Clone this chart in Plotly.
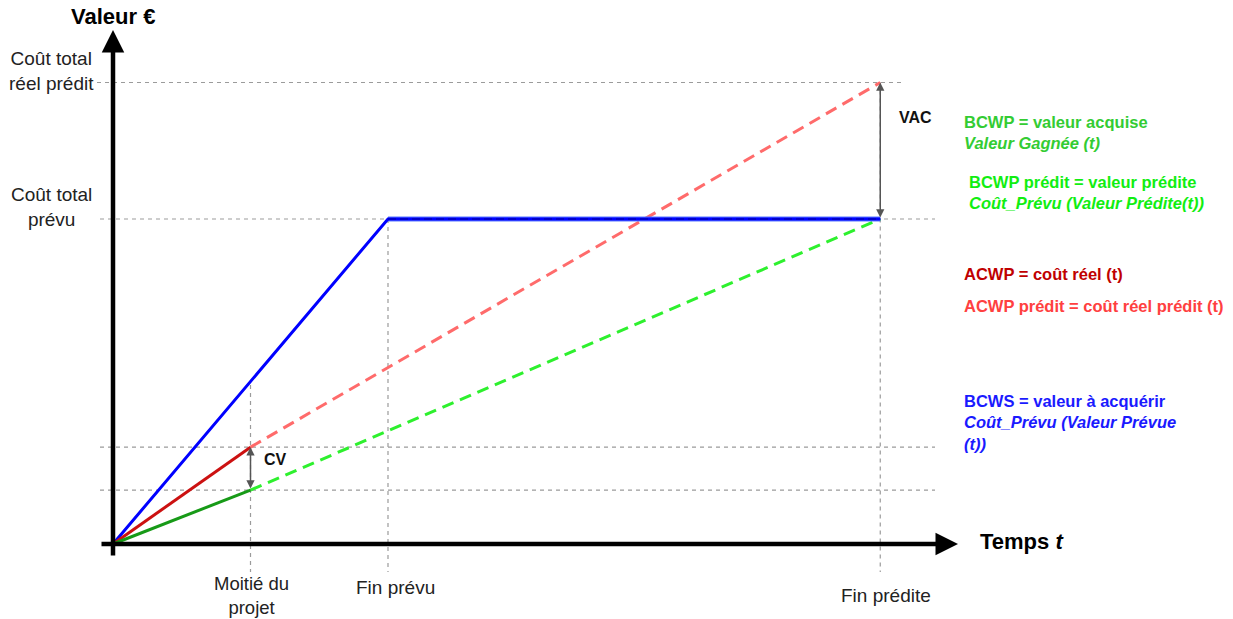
import plotly.graph_objects as go

# ---------------- data (time units / value units) ----------------
temps_labels = ["Moitié du<br>projet", "Fin prévu", "Fin prédite"]
temps_points = [1.0, 2.0, 5.58]          # mi-projet, fin prévue, fin prédite
valeur_labels = ["Coût total<br>réel prédit", "Coût total<br>prévu"]
valeur_points = [142.0, 100.0]           # coût total réel prédit, coût total prévu

bcws_t = [0.0, 2.0, 5.58]
bcws_v = [0.0, 100.0, 100.0]
acwp_t = [0.0, 1.0]
acwp_v = [0.0, 29.8]
acwp_pred_t = [1.0, 5.58]
acwp_pred_v = [29.8, 142.0]
bcwp_t = [0.0, 1.0]
bcwp_v = [0.0, 16.6]
bcwp_pred_t = [1.0, 5.58]
bcwp_pred_v = [16.6, 100.0]

# ---------------- layout helpers ----------------
W, H = 1233, 619
OX, OY = 113, 544          # pixel position of the origin
SX, SY = 137.5, 3.25       # pixels per unit


def X(px):
    return (px - OX) / SX


def Y(py):
    return (OY - py) / SY


def P(px, py):
    return px / W, 1 - py / H


FONT = "Arial, Liberation Sans, sans-serif"
GUIDE = dict(color="#9b9b9b", width=1.2, dash="4px,4px")

fig = go.Figure()

# main series
fig.add_trace(go.Scatter(x=acwp_pred_t, y=acwp_pred_v, mode="lines",
                         line=dict(color="#ff6b6b", width=3, dash="12px,7px")))
fig.add_trace(go.Scatter(x=bcwp_pred_t, y=bcwp_pred_v, mode="lines",
                         line=dict(color="#2ef02e", width=3, dash="12px,7px")))
fig.add_trace(go.Scatter(x=bcws_t[1:], y=bcws_v[1:], mode="lines",
                         line=dict(color="#5a78ff", width=5)))
fig.add_trace(go.Scatter(x=bcws_t, y=bcws_v, mode="lines",
                         line=dict(color="#0000ff", width=3)))
fig.add_trace(go.Scatter(x=bcws_t[1:], y=bcws_v[1:], mode="lines",
                         line=dict(color="#0000cc", width=2, dash="8px,4px")))
fig.add_trace(go.Scatter(x=acwp_t, y=acwp_v, mode="lines",
                         line=dict(color="#cc1111", width=3)))
fig.add_trace(go.Scatter(x=bcwp_t, y=bcwp_v, mode="lines",
                         line=dict(color="#179a17", width=3)))

shapes = []
# horizontal guides
shapes.append(dict(type="line", x0=X(97), x1=X(902), y0=valeur_points[0], y1=valeur_points[0], line=GUIDE, layer="below"))
shapes.append(dict(type="line", x0=X(100), x1=X(935), y0=valeur_points[1], y1=valeur_points[1], line=GUIDE, layer="below"))
shapes.append(dict(type="line", x0=X(100), x1=X(935), y0=acwp_v[-1], y1=acwp_v[-1], line=GUIDE, layer="below"))
shapes.append(dict(type="line", x0=X(100), x1=X(935), y0=bcwp_v[-1], y1=bcwp_v[-1], line=GUIDE, layer="below"))
# vertical guides
shapes.append(dict(type="line", x0=temps_points[0], x1=temps_points[0], y0=Y(385), y1=Y(572), line=GUIDE, layer="below"))
shapes.append(dict(type="line", x0=temps_points[1], x1=temps_points[1], y0=valeur_points[1], y1=Y(572), line=GUIDE, layer="below"))
shapes.append(dict(type="line", x0=temps_points[2], x1=temps_points[2], y0=valeur_points[0], y1=Y(572), line=GUIDE, layer="below"))

annotations = []
# axes with arrow heads
annotations.append(dict(x=X(958), y=0, ax=X(100), ay=0, xref="x", yref="y", axref="x", ayref="y",
                        text="", showarrow=True, arrowhead=2, arrowwidth=4.5, arrowsize=1, arrowcolor="#000"))
annotations.append(dict(x=0, y=Y(30), ax=0, ay=Y(557), xref="x", yref="y", axref="x", ayref="y",
                        text="", showarrow=True, arrowhead=2, arrowwidth=4.5, arrowsize=1, arrowcolor="#000"))
# VAC and CV double arrows
annotations.append(dict(x=temps_points[2], y=valeur_points[0], ax=temps_points[2], ay=valeur_points[1],
                        xref="x", yref="y", axref="x", ayref="y", text="", showarrow=True,
                        arrowhead=2, startarrowhead=2, arrowside="end+start", arrowwidth=1.5,
                        arrowsize=1.1, startarrowsize=1.1, arrowcolor="#555"))
annotations.append(dict(x=temps_points[0], y=acwp_v[-1], ax=temps_points[0], ay=bcwp_v[-1],
                        xref="x", yref="y", axref="x", ayref="y", text="", showarrow=True,
                        arrowhead=2, startarrowhead=2, arrowside="end+start", arrowwidth=1.5,
                        arrowsize=1.1, startarrowsize=1.1, arrowcolor="#555"))


def txt(text, px, py, size, color="#111", xanchor="left", bold=False, align="left"):
    x, y = P(px, py)
    if bold:
        text = "<b>" + text + "</b>"
    annotations.append(dict(x=x, y=y, xref="paper", yref="paper", text=text, showarrow=False,
                            xanchor=xanchor, yanchor="middle", align=align,
                            font=dict(family=FONT, size=size, color=color)))


# axis titles
txt("Valeur €", 113, 17, 22, "#000", xanchor="center", bold=True)
txt("Temps <i>t</i>", 978, 541, 22, "#000", bold=True)
# value labels
txt(valeur_labels[0], 51, 71, 19, "#222", xanchor="center", align="center")
txt(valeur_labels[1], 51, 207, 19, "#222", xanchor="center", align="center")
# time labels
txt(temps_labels[0], 251, 595, 18.5, "#222", xanchor="center", align="center")
txt(temps_labels[1], 395, 587, 19, "#222", xanchor="center", align="center")
txt(temps_labels[2], 886, 595, 19, "#222", xanchor="center", align="center")
# VAC / CV
txt("VAC", 897, 118, 16, "#111", bold=True)
txt("CV", 262, 460, 16, "#111", bold=True)
# legend texts
txt("BCWP = valeur acquise<br><i>Valeur Gagnée (t)</i>", 962, 132.5, 16.5, "#33cc33", bold=True)
txt("BCWP prédit = valeur prédite<br><i>Coût_Prévu (Valeur Prédite(t))</i>", 967, 192.5, 16.5, "#11ee11", bold=True)
txt("ACWP = coût réel (t)", 962, 274, 16.5, "#c00000", bold=True)
txt("ACWP prédit = coût réel prédit (t)", 962, 306, 16.5, "#ff4040", bold=True)
txt("BCWS = valeur à acquérir<br><i>Coût_Prévu (Valeur Prévue<br>(t))</i>", 962, 422.5, 16.5, "#1a1aff", bold=True)

fig.update_layout(
    width=W, height=H,
    margin=dict(l=0, r=0, t=0, b=0),
    paper_bgcolor="white", plot_bgcolor="white",
    showlegend=False,
    hovermode=False,
    xaxis=dict(range=[X(0), X(W)], visible=False, fixedrange=True),
    yaxis=dict(range=[Y(H), Y(0)], visible=False, fixedrange=True),
    shapes=shapes,
    annotations=annotations,
)

fig.write_html("out.html", config={"displayModeBar": False, "staticPlot": True},
               post_script="document.body.style.margin='0';document.body.style.overflow='hidden';")
